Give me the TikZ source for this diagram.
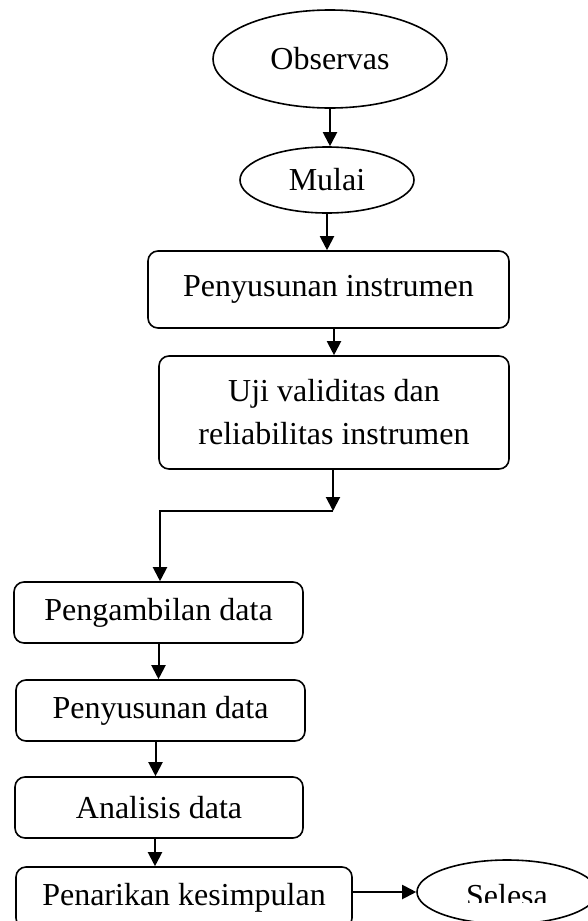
\documentclass[tikz,border=0pt]{standalone}
\usepackage{fontspec}
\setmainfont{Liberation Serif}
\usetikzlibrary{shapes.geometric,arrows.meta}

\begin{document}
\begin{tikzpicture}[x=1pt,y=1pt,yscale=-1,
  every node/.style={font=\fontsize{32}{43}\selectfont},
  box/.style={draw,line width=1.6pt,rounded corners=10pt,inner sep=0pt,align=center},
  terminal/.style={draw,ellipse,line width=1.6pt,inner sep=0pt},
  flow/.style={line width=2pt,-{Triangle[length=14pt,width=14pt]}}]
\useasboundingbox (0,0) rectangle (588,921);
\clip (0,0) rectangle (588,921);
%Terminals and boxes
\node[terminal,minimum width=234pt,minimum height=98pt] (obs) at (330,59) {Observas};
\node[terminal,minimum width=174pt,minimum height=66pt] (mulai) at (327,180) {Mulai};
\node[box,minimum width=361pt,minimum height=77pt] (susun) at (328.5,289.5) {Penyusunan instrumen};
\node[box,minimum width=350pt,minimum height=113pt] (uji) at (334,412.5) {Uji validitas dan\\reliabilitas instrumen};
\node[box,minimum width=289pt,minimum height=61pt] (ambil) at (158.5,612.5) {Pengambilan data};
\node[box,minimum width=289pt,minimum height=61pt] (susundata) at (160.5,710.5) {Penyusunan data};
\node[box,minimum width=288pt,minimum height=61pt] (analisis) at (159,807.5) {Analisis data};
\node[box,minimum width=336pt,minimum height=61pt] (tarik) at (184,897.5) {Penarikan kesimpulan};
\node[terminal,minimum width=180pt,minimum height=64pt] (selesa) at (507,892) {};
%text of the last terminal is cut off
\begin{scope}
\clip (417,860) rectangle (588,902);
\node (selesatext) at (507,896) {Selesa};
\end{scope}
%Connectors
\coordinate (split) at (333,511);
\coordinate (turn) at (160,511);
\draw[flow] (obs.south) -- (obs.south |- mulai.north);
\draw[flow] (mulai.south) -- (mulai.south |- susun.north);
\draw[flow] (uji.north |- susun.south) -- (uji.north);
\draw[flow] (split |- uji.south) -- (split);
\draw[flow] (split) -- (turn) -- (turn |- ambil.north);
\draw[flow] (ambil.south) -- (ambil.south |- susundata.north);
\draw[flow] ([xshift=-5pt]susundata.south) -- ([xshift=-5pt]susundata.south |- analisis.north);
\draw[flow] ([xshift=-4pt]analisis.south) -- ([xshift=-4pt]analisis.south |- tarik.north);
\draw[flow] (tarik.east |- selesa.west) -- (selesa.west);
\end{tikzpicture}
\end{document}
